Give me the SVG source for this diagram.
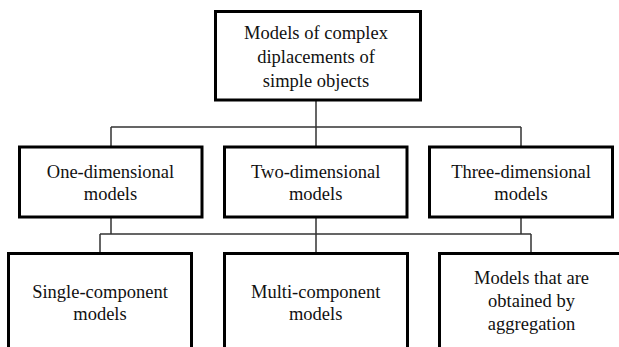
<svg xmlns="http://www.w3.org/2000/svg" width="619" height="347" viewBox="0 0 619 347">
<style>
.box{fill:#fff;stroke:#000;stroke-width:3}
.t{font-size:18.5px;fill:#111;text-anchor:middle}
.c{fill:none;stroke:#333;stroke-width:1.5}
</style>
<rect width="619" height="347" fill="#fff"/>
<g id="connectors">
<path class="c" d="M316 100V127M111 127H521M111 127V147M316 127V147M521 127V147"/>
<path class="c" d="M111 217V234M316 217V253M521 217V234M100 234H531M100 234V253M531 234V253"/>
</g>
<g font-family="Liberation Serif, serif">
<g id="root">
<rect class="box" x="215.5" y="11.5" width="205" height="88.5"/>
<text class="t" x="316" y="38.5">Models of complex</text>
<text class="t" x="316" y="63">diplacements of</text>
<text class="t" x="316" y="87">simple  objects</text>
</g>
<g id="one-dim">
<rect class="box" x="19.5" y="147" width="182.5" height="70"/>
<text class="t" x="110.5" y="177.5">One-dimensional</text>
<text class="t" x="110.5" y="199.5">models</text>
</g>
<g id="two-dim">
<rect class="box" x="224.5" y="147" width="182.5" height="70"/>
<text class="t" x="315.7" y="177.5">Two-dimensional</text>
<text class="t" x="315.7" y="199.5">models</text>
</g>
<g id="three-dim">
<rect class="box" x="429.5" y="147" width="183" height="70"/>
<text class="t" x="521" y="177.5">Three-dimensional</text>
<text class="t" x="521" y="199.5">models</text>
</g>
<g id="single">
<rect class="box" x="8.5" y="253.5" width="183" height="110"/>
<text class="t" x="100" y="297.5">Single-component</text>
<text class="t" x="100" y="319.5">models</text>
</g>
<g id="multi">
<rect class="box" x="224.5" y="253.5" width="183" height="110"/>
<text class="t" x="315.7" y="297.5">Multi-component</text>
<text class="t" x="315.7" y="319.5">models</text>
</g>
<g id="aggregation">
<rect class="box" x="439.5" y="253.5" width="200" height="110"/>
<text class="t" x="531.5" y="283.5">Models that are</text>
<text class="t" x="531.5" y="306.5">obtained by</text>
<text class="t" x="531.5" y="329.5">aggregation</text>
</g>
</g>
</svg>
